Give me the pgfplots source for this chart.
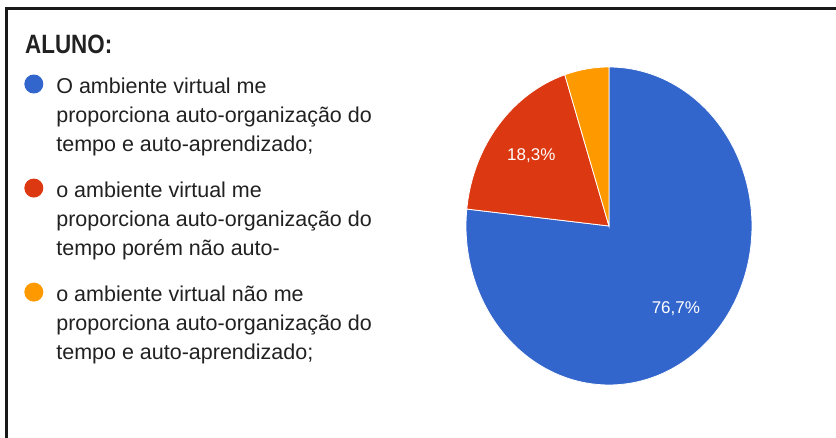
\documentclass[border=0pt]{standalone}
\usepackage{pgfplots}
\pgfplotsset{compat=1.18}
\usepackage{pgfplotstable}
\usepackage{fontspec}
\setmainfont{Liberation Sans}
\definecolor{gblue}{HTML}{3366CC}
\definecolor{gred}{HTML}{DC3912}
\definecolor{gorange}{HTML}{FF9900}
\definecolor{txt}{HTML}{212121}
\pgfplotstableread{
idx value
0 76.7
1 18.3
2 5.0
}\piedata
\begin{document}
\begin{tikzpicture}[x=1pt,y=1pt]
\useasboundingbox (0,0) rectangle (836,438);
\draw[line width=3pt, black!90] (6,0) -- (6,429) -- (836,429);
\node[anchor=base west, inner sep=0pt, text=txt] at (25,384) {\fontsize{26.5}{30}\selectfont\scalebox{0.845}[1]{\bfseries ALUNO:}};
\pgfplotstablegetelem{0}{value}\of\piedata \let\va\pgfplotsretval
\pgfplotstablegetelem{1}{value}\of\piedata \let\vb\pgfplotsretval
\pgfplotstablegetelem{2}{value}\of\piedata \let\vc\pgfplotsretval
\pgfmathsetmacro{\aA}{90}
\pgfmathsetmacro{\aB}{90-3.6*\va}
\pgfmathsetmacro{\aC}{\aB-3.6*\vb}
\pgfmathsetmacro{\aD}{\aC-3.6*\vc}
\pgfmathsetmacro{\mA}{(\aA+\aB)/2}
\pgfmathsetmacro{\mB}{(\aB+\aC)/2}
\begin{axis}[at={(609pt,212pt)}, anchor=center, width=286pt, height=318pt,
  scale only axis, hide axis, xmin=-1, xmax=1, ymin=-1, ymax=1, clip=false,
  legend cell align=left,
  legend style={at={(-1.545,0.977)}, anchor=north west, draw=none, fill=none,
    inner sep=0pt, row sep=26pt, column sep=0pt,
    nodes={align=left, inner sep=0pt, fill=none, text=txt, font=\fontsize{21.5}{29}\selectfont}},
  legend image code/.code={\fill[#1, draw=none] (9.5pt,31pt) circle (9.5pt); \path[draw=none, fill=none] (0pt,0pt) -- (32pt,0pt);},
]
\addplot[fill=gblue, draw=white, line width=0.8pt, domain=\aB:\aA, samples=150, variable=\t] ({cos(\t)},{sin(\t)}) -- (0,0) -- cycle;
\addlegendentry{O ambiente virtual me\\proporciona auto-organização do\\tempo e auto-aprendizado;}
\addplot[fill=gred, draw=white, line width=0.8pt, domain=\aC:\aB, samples=60, variable=\t] ({cos(\t)},{sin(\t)}) -- (0,0) -- cycle;
\addlegendentry{o ambiente virtual me\\proporciona auto-organização do\\tempo porém não auto-}
\addplot[fill=gorange, draw=white, line width=0.8pt, domain=\aD:\aC, samples=30, variable=\t] ({cos(\t)},{sin(\t)}) -- (0,0) -- cycle;
\addlegendentry{o ambiente virtual não me\\proporciona auto-organização do\\tempo e auto-aprendizado;}
\node[text=white, font=\fontsize{17}{20}\selectfont] at (axis cs:{0.7*cos(\mA)},{0.7*sin(\mA)}) {76,7\%};
\node[text=white, font=\fontsize{17}{20}\selectfont] at (axis cs:{0.7*cos(\mB)},{0.7*sin(\mB)}) {18,3\%};
\end{axis}
\end{tikzpicture}
\end{document}
